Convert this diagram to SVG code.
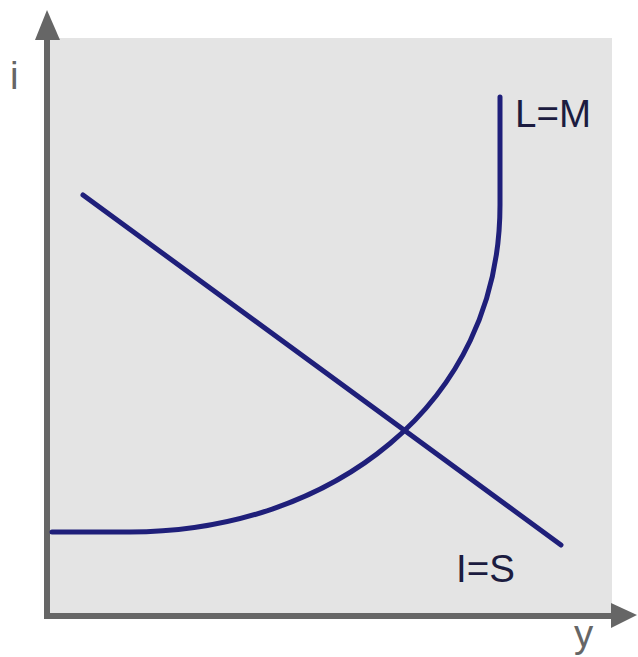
<svg xmlns="http://www.w3.org/2000/svg" width="638" height="657" viewBox="0 0 638 657">
<style>
.axis{stroke:#666;stroke-width:6;fill:none}
.curve{stroke:#1f1f7a;stroke-width:5;fill:none;stroke-linecap:round}
.lbl{font-family:"Liberation Sans",Arial,sans-serif;font-size:38.5px}
.ax{fill:#666}
.cl{fill:#1c1c40}
</style>
<rect x="0" y="0" width="638" height="657" fill="#fff"/>
<rect id="plot" x="47" y="38" width="565" height="578" fill="#e4e4e4"/>
<g id="connectors">
<path class="axis" d="M47,38 V616 H612"/>
<polygon fill="#666" points="47,10 35,40 60,40"/>
<polygon fill="#666" points="637,615 611,603 611,628"/>
<path id="LM" class="curve" d="M52,532 L130,532 C330,532 500,405 500,205 L500,97"/>
<path id="IS" class="curve" d="M83,195 L561,545"/>
</g>
<g id="labels">
<text class="lbl ax" x="10" y="89">i</text>
<text class="lbl ax" x="574" y="647">y</text>
<text class="lbl cl" x="515" y="127">L=M</text>
<text class="lbl cl" x="456" y="582">I=S</text>
</g>
</svg>
